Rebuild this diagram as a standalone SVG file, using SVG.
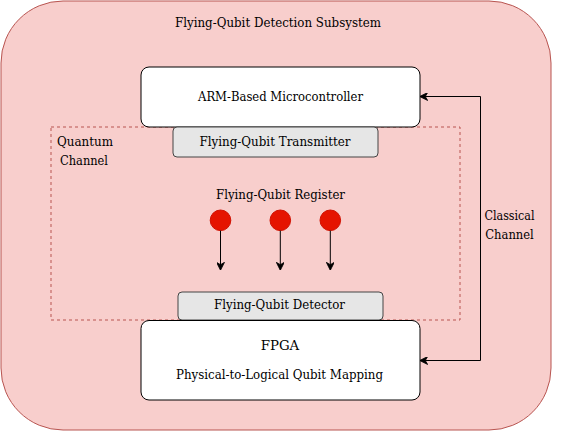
<svg xmlns="http://www.w3.org/2000/svg" width="562" height="432" viewBox="0 0 562 432">
<defs>
<style>
text{font-family:'DejaVu Serif','Liberation Serif',serif;font-size:12px;fill:#000;}
.c{text-anchor:middle;}
.box{fill:#fff;stroke:#000;stroke-width:1;}
.gray{fill:#e6e6e6;stroke:#444;stroke-width:1;}
.conn{fill:none;stroke:#000;stroke-width:1;}
</style>
<marker id="arr" viewBox="0 0 10 10" refX="9" refY="5" markerWidth="8" markerHeight="8" markerUnits="userSpaceOnUse" orient="auto">
<path d="M0,0 L10,5 L0,10 L3,5 Z" fill="#000" stroke="#000" stroke-width="1"/>
</marker>
<marker id="arrs" viewBox="0 0 10 10" refX="1" refY="5" markerWidth="8" markerHeight="8" markerUnits="userSpaceOnUse" orient="auto">
<path d="M10,0 L0,5 L10,10 L7,5 Z" fill="#000" stroke="#000" stroke-width="1"/>
</marker>
</defs>
<rect width="562" height="432" fill="#fff"/>
<g id="subsystem">
<rect x="1" y="1" width="550" height="429" rx="62" ry="62" fill="#f8cecc" stroke="#b85450"/>
<text class="c" x="278" y="27" textLength="206" lengthAdjust="spacingAndGlyphs">Flying-Qubit Detection Subsystem</text>
</g>
<g id="quantum-channel">
<rect x="51" y="127" width="409" height="193" fill="none" stroke="#b85450" stroke-dasharray="3 3"/>
<text x="57" y="146" textLength="56" lengthAdjust="spacingAndGlyphs">Quantum</text>
<text x="60" y="164.5" textLength="48" lengthAdjust="spacingAndGlyphs">Channel</text>
</g>
<g id="microcontroller">
<rect class="box" x="141" y="67" width="279" height="60" rx="8"/>
<text class="c" x="280.5" y="101" textLength="165" lengthAdjust="spacingAndGlyphs">ARM-Based Microcontroller</text>
</g>
<g id="transmitter">
<rect class="gray" x="173" y="127" width="205" height="30" rx="4"/>
<text class="c" x="275" y="146" textLength="151" lengthAdjust="spacingAndGlyphs">Flying-Qubit Transmitter</text>
</g>
<g id="register">
<text class="c" x="280.5" y="199" textLength="129" lengthAdjust="spacingAndGlyphs">Flying-Qubit Register</text>
<circle cx="220.5" cy="220.3" r="10.3" fill="#e51400" stroke="#d01000"/>
<circle cx="280.3" cy="220.3" r="10.3" fill="#e51400" stroke="#d01000"/>
<circle cx="330.3" cy="220.3" r="10.3" fill="#e51400" stroke="#d01000"/>
</g>
<g id="detector">
<rect class="gray" x="178" y="292" width="205" height="28" rx="4"/>
<text class="c" x="279.5" y="308.5" textLength="131" lengthAdjust="spacingAndGlyphs">Flying-Qubit Detector</text>
</g>
<g id="fpga">
<rect class="box" x="141" y="320.5" width="279" height="79.5" rx="8"/>
<text class="c" x="280" y="349.5" textLength="38.5" lengthAdjust="spacingAndGlyphs">FPGA</text>
<text class="c" x="279.5" y="379" textLength="207" lengthAdjust="spacingAndGlyphs">Physical-to-Logical Qubit Mapping</text>
</g>
<g id="connectors">
<line class="conn" x1="220.5" y1="230.6" x2="220.5" y2="269.5" marker-end="url(#arr)"/>
<line class="conn" x1="280.3" y1="230.6" x2="280.3" y2="269.5" marker-end="url(#arr)"/>
<line class="conn" x1="330.3" y1="230.6" x2="330.3" y2="269.5" marker-end="url(#arr)"/>
<path class="conn" d="M420.5,96.5 L480.5,96.5 L480.5,360.5 L420.5,360.5" marker-start="url(#arrs)" marker-end="url(#arr)"/>
<text class="c" x="509.5" y="219.5" textLength="50" lengthAdjust="spacingAndGlyphs">Classical</text>
<text class="c" x="509.5" y="238.5" textLength="48.5" lengthAdjust="spacingAndGlyphs">Channel</text>
</g>
</svg>
